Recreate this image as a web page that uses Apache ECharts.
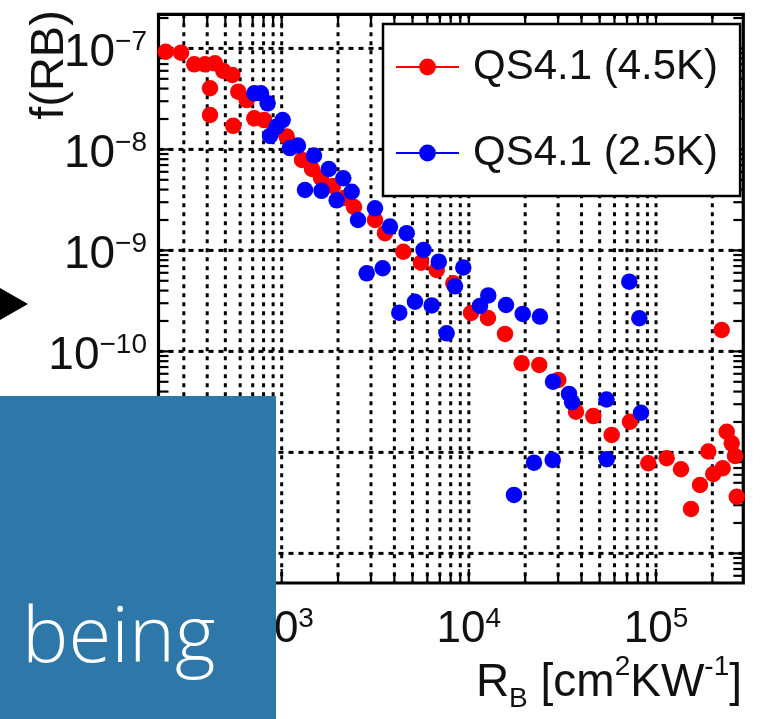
<!DOCTYPE html>
<html>
<head>
<meta charset="utf-8">
<script src="https://cdn.jsdelivr.net/npm/echarts@6/dist/echarts.min.js"></script>
<style>
  html, body { margin: 0; padding: 0; background: #fff; }
  #chart { width: 766px; height: 719px; }
</style>
</head>
<body>
<div id="chart"></div>
<script>
// Series names shown in the legend
const seriesNames = ['QS4.1 (4.5K)', 'QS4.1 (2.5K)'];

// QS4.1 at 4.5 K: R_B [cm^2 K W^-1] and f(R_B)
const rb45 = [240, 290, 341, 389, 440, 414, 414, 488, 545, 551, 586, 650, 714, 807, 921, 1064,
  1284, 1452, 1622, 1880, 2153, 2434, 3152, 3565, 4465, 5550, 6733, 8260, 10270, 12650, 15600,
  19150, 23780, 30060, 37370, 46240, 57980, 72620, 90950, 114000, 136000, 153800, 171800,
  190300, 202300, 224400, 227200, 238700, 253800, 264300, 270000];
const f45 = [9.27e-8, 9.07e-8, 6.96e-8, 6.96e-8, 7.12e-8, 4.03e-8, 2.19e-8, 5.98e-8, 5.45e-8,
  1.71e-8, 3.73e-8, 3.08e-8, 2.03e-8, 1.95e-8, 1.56e-8, 1.34e-8, 7.85e-9, 6.40e-9, 5.21e-9,
  4.34e-9, 3.30e-9, 2.69e-9, 2.00e-9, 1.48e-9, 9.70e-10, 7.55e-10, 6.40e-10, 4.72e-10, 2.40e-10,
  2.14e-10, 1.49e-10, 7.62e-11, 7.33e-11, 5.21e-11, 2.53e-11, 2.29e-11, 1.49e-11, 2.01e-11,
  7.80e-12, 8.75e-12, 6.81e-12, 2.75e-12, 4.75e-12, 1.02e-11, 6.11e-12, 1.63e-10, 6.96e-12,
  1.60e-11, 1.23e-11, 9.21e-12, 3.64e-12];

// QS4.1 at 2.5 K
const rb25 = [714, 775, 841, 866, 940, 1012, 1107, 1222, 1488, 1785, 2134, 2366, 1332, 1632,
  1967, 2557, 3152, 3790, 4655, 5723, 6909, 9338, 8434, 2846, 3465, 4250, 5155, 6331, 7613,
  11470, 12700, 15800, 19400, 23990, 28160, 34280, 35570, 54390, 71970, 81450, 83150, 22290,
  28050, 54530, 17430];
const f25 = [3.59e-8, 3.59e-8, 2.86e-8, 1.36e-8, 1.68e-8, 1.95e-8, 1.03e-8, 1.09e-8, 8.70e-9,
  6.40e-9, 5.18e-9, 3.81e-9, 3.96e-9, 3.89e-9, 3.13e-9, 2.00e-9, 2.61e-9, 1.72e-9, 1.48e-9,
  1.01e-9, 7.73e-10, 6.77e-10, 4.41e-10, 5.93e-10, 6.65e-10, 2.42e-10, 3.10e-10, 2.85e-10,
  1.51e-10, 2.82e-10, 3.58e-10, 2.88e-10, 2.35e-10, 2.21e-10, 5.01e-11, 3.79e-11, 3.15e-11,
  3.34e-11, 4.90e-10, 2.13e-10, 2.47e-11, 7.91e-12, 8.41e-12, 8.55e-12, 3.79e-12];

// Axis ranges
const xRange = [219.7, 292700];
const yRange = [5.09e-13, 2.176e-7];

// Log-axis tick positions (every 1..9 x 10^n inside the range)
const xTickValues = [300, 400, 500, 600, 700, 800, 900,
  1000, 2000, 3000, 4000, 5000, 6000, 7000, 8000, 9000,
  10000, 20000, 30000, 40000, 50000, 60000, 70000, 80000, 90000,
  100000, 200000];
const yTickValues = [6e-13, 7e-13, 8e-13, 9e-13,
  1e-12, 2e-12, 3e-12, 4e-12, 5e-12, 6e-12, 7e-12, 8e-12, 9e-12,
  1e-11, 2e-11, 3e-11, 4e-11, 5e-11, 6e-11, 7e-11, 8e-11, 9e-11,
  1e-10, 2e-10, 3e-10, 4e-10, 5e-10, 6e-10, 7e-10, 8e-10, 9e-10,
  1e-9, 2e-9, 3e-9, 4e-9, 5e-9, 6e-9, 7e-9, 8e-9, 9e-9,
  1e-8, 2e-8, 3e-8, 4e-8, 5e-8, 6e-8, 7e-8, 8e-8, 9e-8,
  1e-7, 2e-7];

const FONT = 'Liberation Sans, Arial, sans-serif';
const INK = '#111';

function zip(xs, ys) { return xs.map((x, i) => [x, ys[i]]); }
function isDecade(v) {
  const e = Math.log10(v);
  return Math.abs(e - Math.round(e)) < 1e-6;
}
function decadeLabel(v) {
  if (!isDecade(v)) return '';
  const e = Math.round(Math.log10(v));
  return '{b|10}{s|' + String(e).replace('-', '\u2212') + '}';
}

// Frame decoration items: kind 0 = x position, kind 1 = y position
const frameItems = xTickValues.map(v => [v, 1e-9, 0])
  .concat(yTickValues.map(v => [1000, v, 1]));

function renderFrame(params, api) {
  const cs = params.coordSys;
  const left = cs.x, right = cs.x + cs.width, top = cs.y, bottom = cs.y + cs.height;
  const kind = api.value(2);
  const children = [];
  const tickStyle = { stroke: '#000', lineWidth: 2.2 };
  if (kind === 0) {
    const v = api.value(0);
    const px = api.coord([v, 1e-9])[0];
    const len = isDecade(v) ? 14 : 10;
    children.push({ type: 'line', shape: { x1: px, y1: top, x2: px, y2: bottom },
      style: { stroke: '#000', lineWidth: 3, lineDash: [4, 5] } });
    children.push({ type: 'line', shape: { x1: px, y1: bottom, x2: px, y2: bottom - len }, style: tickStyle });
    children.push({ type: 'line', shape: { x1: px, y1: top, x2: px, y2: top + len }, style: tickStyle });
  } else {
    const v = api.value(1);
    const py = api.coord([1000, v])[1];
    const len = isDecade(v) ? 14 : 10;
    if (isDecade(v)) {
      children.push({ type: 'line', shape: { x1: left, y1: py, x2: right, y2: py },
        style: { stroke: '#000', lineWidth: 3, lineDash: [5, 5] } });
    }
    children.push({ type: 'line', shape: { x1: left, y1: py, x2: left + len, y2: py }, style: tickStyle });
    children.push({ type: 'line', shape: { x1: right, y1: py, x2: right - len, y2: py }, style: tickStyle });
  }
  return { type: 'group', children: children };
}

const chart = echarts.init(document.getElementById('chart'), null, { renderer: 'canvas' });

chart.setOption({
  animation: false,
  backgroundColor: '#fff',
  grid: {
    left: 158.5, top: 14.3, width: 584.8, height: 568.7,
    show: true, borderColor: '#000', borderWidth: 3.2, backgroundColor: 'transparent',
    containLabel: false, outerBoundsMode: 'none'
  },
  xAxis: {
    type: 'log', logBase: 10, min: xRange[0], max: xRange[1],
    axisLine: { show: false }, axisTick: { show: false },
    splitLine: { show: false }, minorTick: { show: false },
    axisLabel: {
      margin: 22,
      formatter: decadeLabel,
      rich: {
        b: { fontSize: 44, lineHeight: 50, fontFamily: FONT, color: INK },
        s: { fontSize: 28, lineHeight: 18, verticalAlign: 'top', fontFamily: FONT, color: INK }
      }
    }
  },
  yAxis: {
    type: 'log', logBase: 10, min: yRange[0], max: yRange[1],
    axisLine: { show: false }, axisTick: { show: false },
    splitLine: { show: false }, minorTick: { show: false },
    axisLabel: {
      margin: 11.5,
      padding: [9, 0, 0, 0],
      formatter: decadeLabel,
      rich: {
        b: { fontSize: 46, lineHeight: 50, fontFamily: FONT, color: INK },
        s: { fontSize: 28, lineHeight: 20, verticalAlign: 'top', fontFamily: FONT, color: INK }
      }
    }
  },
  legend: {
    orient: 'vertical', left: 383, top: 24,
    padding: [22, 22, 22, 12], itemGap: 44,
    itemWidth: 63, itemHeight: 21,
    backgroundColor: '#fff', borderColor: '#000', borderWidth: 2.5, borderRadius: 0,
    selectedMode: false,
    textStyle: { fontSize: 42, lineHeight: 42, fontFamily: FONT, color: INK, padding: [0, 0, 0, 9] },
    data: seriesNames
  },
  series: [
    {
      // dashed grid and inward ticks along the frame
      type: 'custom', silent: true, z: 1,
      renderItem: renderFrame,
      data: frameItems
    },
    // legend keys (line with marker)
    { name: seriesNames[0], type: 'line', data: [], symbol: 'circle', symbolSize: 16,
      itemStyle: { color: '#ff0000' }, lineStyle: { color: '#ff0000', width: 3 } },
    { name: seriesNames[1], type: 'line', data: [], symbol: 'circle', symbolSize: 16,
      itemStyle: { color: '#0000ff' }, lineStyle: { color: '#0000ff', width: 3 } },
    // measured points
    { name: seriesNames[0], type: 'scatter', z: 3, clip: false, silent: true,
      symbol: 'circle', symbolSize: 16.5, itemStyle: { color: '#ff0000', opacity: 1 },
      data: zip(rb45, f45) },
    { name: seriesNames[1], type: 'scatter', z: 4, clip: false, silent: true,
      symbol: 'circle', symbolSize: 16.5, itemStyle: { color: '#0000ff', opacity: 1 },
      data: zip(rb25, f25) }
  ],
  graphic: [
    {
      type: 'text', x: 50, y: 65, rotation: Math.PI / 2, z: 50,
      style: { text: 'f(RB)', font: '47px ' + FONT, fill: INK, align: 'center', verticalAlign: 'middle' }
    },
    {
      type: 'text', x: 742, y: 683.5, z: 50,
      style: {
        text: '{m|R}{sub|B}{m| [cm}{sup|2}{m|KW}{sup|-1}{m|]}',
        align: 'right', verticalAlign: 'middle', fill: INK,
        rich: {
          m: { fontSize: 46, lineHeight: 60, fontFamily: FONT, fill: INK },
          sup: { fontSize: 28, lineHeight: 29, verticalAlign: 'top', fontFamily: FONT, fill: INK },
          sub: { fontSize: 28, lineHeight: 23, verticalAlign: 'bottom', fontFamily: FONT, fill: INK }
        }
      }
    },
    {
      type: 'polygon', z: 100,
      shape: { points: [[0, 288], [28, 304], [0, 320]] },
      style: { fill: '#000' }
    },
    {
      type: 'rect', z: 100,
      shape: { x: 0, y: 396, width: 276, height: 323 },
      style: { fill: '#2d78a8' }
    },
    {
      type: 'text', x: 22, y: 640, z: 101,
      style: { text: 'being', font: '300 78px "Open Sans", Roboto, sans-serif', fill: '#fff',
        align: 'left', verticalAlign: 'middle' }
    }
  ]
});
</script>
</body>
</html>
